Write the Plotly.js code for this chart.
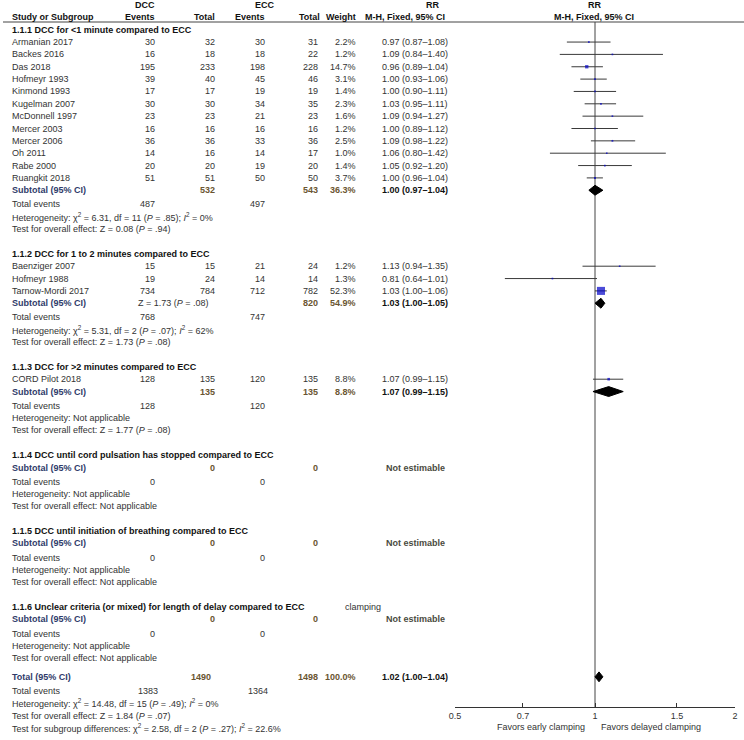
<!DOCTYPE html>
<html>
<head>
<meta charset="utf-8">
<script src="https://cdn.plot.ly/plotly-3.0.1.min.js"></script>
<style>html,body{margin:0;padding:0;background:#fff;}#chart{width:744px;height:740px;}</style>
</head>
<body>
<div id="chart"></div>
<script>
// ---------------- DATA ----------------
const studyNames = ['Armanian 2017','Backes 2016','Das 2018','Hofmeyr 1993','Kinmond 1993','Kugelman 2007','McDonnell 1997','Mercer 2003','Mercer 2006','Oh 2011','Rabe 2000','Ruangkit 2018','Baenziger 2007','Hofmeyr 1988','Tarnow-Mordi 2017','CORD Pilot 2018'];
const studyGroup = [0,0,0,0,0,0,0,0,0,0,0,0,1,1,1,2];
const dccEvents = [30,16,195,39,17,30,23,16,36,14,20,51,15,19,734,128];
const dccTotal  = [32,18,233,40,17,30,23,16,36,16,20,51,15,24,784,135];
const eccEvents = [30,18,198,45,19,34,21,16,33,14,19,50,21,14,712,120];
const eccTotal  = [31,22,228,46,19,35,23,16,36,17,20,50,24,14,782,135];
const studyWeight = [2.2,1.2,14.7,3.1,1.4,2.3,1.6,1.2,2.5,1.0,1.4,3.7,1.2,1.3,52.3,8.8];
const studyRR = [0.97,1.09,0.96,1.00,1.00,1.03,1.09,1.00,1.09,1.06,1.05,1.00,1.13,0.81,1.03,1.07];
const studyLo = [0.87,0.84,0.89,0.93,0.90,0.95,0.94,0.89,0.98,0.80,0.92,0.96,0.94,0.64,1.00,0.99];
const studyHi = [1.08,1.40,1.04,1.06,1.11,1.11,1.27,1.12,1.22,1.42,1.20,1.04,1.35,1.01,1.06,1.15];

const groupTitles = ['1.1.1 DCC for <1 minute compared to ECC','1.1.2 DCC for 1 to 2 minutes compared to ECC','1.1.3 DCC for >2 minutes compared to ECC','1.1.4 DCC until cord pulsation has stopped compared to ECC','1.1.5 DCC until initiation of breathing compared to ECC','1.1.6 Unclear criteria (or mixed) for length of delay compared to ECC'];
const groupDccTotalLabel = ['532','Z = 1.73 (<i>P</i> = .08)','135','0','0','0'];
const groupEccTotal = [543,820,135,0,0,0];
const groupWeight = [36.3,54.9,8.8,null,null,null];
const groupRR = [1.00,1.03,1.07,null,null,null];
const groupLo = [0.97,1.00,0.99,null,null,null];
const groupHi = [1.04,1.05,1.15,null,null,null];
const groupDccEvents = [487,768,128,0,0,0];
const groupEccEvents = [497,747,120,0,0,0];
const groupHet = [
  'Heterogeneity: χ<sup>2</sup> = 6.31, df = 11 (<i>P</i> = .85); <i>I</i><sup>2</sup> = 0%',
  'Heterogeneity: χ<sup>2</sup> = 5.31, df = 2 (<i>P</i> = .07); <i>I</i><sup>2</sup> = 62%',
  'Heterogeneity: Not applicable','Heterogeneity: Not applicable','Heterogeneity: Not applicable','Heterogeneity: Not applicable'];
const groupTest = [
  'Test for overall effect: Z = 0.08 (<i>P</i> = .94)',
  'Test for overall effect: Z = 1.73 (<i>P</i> = .08)',
  'Test for overall effect: Z = 1.77 (<i>P</i> = .08)',
  'Test for overall effect: Not applicable','Test for overall effect: Not applicable','Test for overall effect: Not applicable'];

const totalDccTotal = 1490, totalEccTotal = 1498, totalWeight = 100.0;
const totalRR = 1.02, totalLo = 1.00, totalHi = 1.04;
const totalDccEvents = 1383, totalEccEvents = 1364;
const totalHet = 'Heterogeneity: χ<sup>2</sup> = 14.48, df = 15 (<i>P</i> = .49); <i>I</i><sup>2</sup> = 0%';
const totalTest = 'Test for overall effect: Z = 1.84 (<i>P</i> = .07)';
const subgroupTest = 'Test for subgroup differences: χ<sup>2</sup> = 2.58, df = 2 (<i>P</i> = .27); <i>I</i><sup>2</sup> = 22.6%';

const axisTicks = [0.5, 0.7, 1, 1.5, 2];
const axisTickText = ['0.5','0.7','1','1.5','2'];

// ---------------- LAYOUT HELPERS ----------------
const W = 744, H = 740;
const A = 5, B = 12.35;               // pixel = A + B*row
const px2row = p => (p - A) / B;
const FONT = 'Liberation Sans, Arial, sans-serif';
const TXT = '#333333', BOLD = '#111111', NAVY = '#2f3b6a', BROWN = '#6a5530';
const COL = {label:10, dccEv:157, dccTot:217, eccEv:267, eccTot:320, wt:358, ci:380, ciR:447};
const ann = [];
function T(xpx, row, text, anchor, opt) {
  opt = opt || {};
  ann.push({xref:'paper', yref:'y', x: xpx / W, y: row, text: opt.bold ? '<b>' + text + '</b>' : text,
    xanchor: anchor, yanchor:'middle', showarrow:false,
    font:{family:FONT, size: opt.size || 9, color: opt.color || TXT}});
}
const fmtCI = (r,l,h) => r.toFixed(2) + ' (' + l.toFixed(2) + '–' + h.toFixed(2) + ')';

// Headers
T(157, 0, 'DCC', 'right', {bold:true, color:BOLD});
T(277, 0, 'ECC', 'right', {bold:true, color:BOLD});
T(433, 0, 'RR', 'center', {bold:true, color:BOLD});
T(595, 0, 'RR', 'center', {bold:true, color:BOLD});
T(COL.label, 1, 'Study or Subgroup', 'left', {bold:true, color:BOLD});
T(COL.dccEv, 1, 'Events', 'right', {bold:true, color:BOLD});
T(COL.dccTot, 1, 'Total', 'right', {bold:true, color:BOLD});
T(COL.eccEv, 1, 'Events', 'right', {bold:true, color:BOLD});
T(COL.eccTot + 2, 1, 'Total', 'right', {bold:true, color:BOLD});
T(COL.wt, 1, 'Weight', 'right', {bold:true, color:BOLD});
T(COL.ciR, 1, 'M-H, Fixed, 95% CI', 'right', {bold:true, color:BOLD});
T(594, 1, 'M-H, Fixed, 95% CI', 'center', {bold:true, color:BOLD});

const ciX = [], ciY = [], sqX = [], sqY = [], sqS = [], dX = [], dY = [];
function diamond(r, l, h, row) {
  const hh = 0.4;
  dX.push(l, r, h, r, l, null);
  dY.push(row, row - hh, row, row + hh, row, null);
}

let row = 2;
for (let g = 0; g < groupTitles.length; g++) {
  T(COL.label, row, groupTitles[g], 'left', {bold:true, color:BOLD});
  if (g === 5) T(343, row, 'clamping', 'left');
  row += 1;
  for (let i = 0; i < studyNames.length; i++) {
    if (studyGroup[i] !== g) continue;
    T(COL.label, row, studyNames[i], 'left');
    T(COL.dccEv, row, String(dccEvents[i]), 'right');
    T(COL.dccTot, row, String(dccTotal[i]), 'right');
    T(COL.eccEv, row, String(eccEvents[i]), 'right');
    T(COL.eccTot, row, String(eccTotal[i]), 'right');
    T(COL.wt, row, studyWeight[i].toFixed(1) + '%', 'right');
    T(COL.ci, row, fmtCI(studyRR[i], studyLo[i], studyHi[i]), 'left');
    ciX.push(studyLo[i], studyHi[i], null); ciY.push(row, row, null);
    sqX.push(studyRR[i]); sqY.push(row); sqS.push(1.5 + 0.125 * studyWeight[i]);
    row += 1;
  }
  // subtotal
  T(COL.label, row, 'Subtotal (95% CI)', 'left', {bold:true, color:NAVY});
  if (groupDccTotalLabel[g].indexOf('Z') === 0) T(173, row, groupDccTotalLabel[g], 'center');
  else T(COL.dccTot, row, groupDccTotalLabel[g], 'right', {bold:true, color:BROWN});
  T(COL.eccTot, row, String(groupEccTotal[g]), 'right', {bold:true, color:BROWN});
  if (groupRR[g] !== null) {
    T(COL.wt, row, groupWeight[g].toFixed(1) + '%', 'right', {bold:true, color:BROWN});
    T(COL.ci, row, fmtCI(groupRR[g], groupLo[g], groupHi[g]), 'left', {bold:true, color:BOLD});
    diamond(groupRR[g], groupLo[g], groupHi[g], row);
  } else {
    T(COL.ciR, row, 'Not estimable', 'right', {bold:true, color:'#4a4a40'});
  }
  row += 1.15;
  T(COL.label, row, 'Total events', 'left');
  T(COL.dccEv, row, String(groupDccEvents[g]), 'right');
  T(COL.eccEv, row, String(groupEccEvents[g]), 'right');
  row += 1;
  T(COL.label, row, groupHet[g], 'left');
  row += 1;
  T(COL.label, row, groupTest[g], 'left');
  row += (g < groupTitles.length - 1) ? 2 : 1.5;
}
// overall total
T(COL.label, row, 'Total (95% CI)', 'left', {bold:true, color:NAVY});
T(213, row, String(totalDccTotal), 'right', {bold:true, color:BROWN});
T(COL.eccTot, row, String(totalEccTotal), 'right', {bold:true, color:BROWN});
T(COL.wt, row, totalWeight.toFixed(1) + '%', 'right', {bold:true, color:BROWN});
T(COL.ci, row, fmtCI(totalRR, totalLo, totalHi), 'left', {bold:true, color:BOLD});
diamond(totalRR, totalLo, totalHi, row);
row += 1.15;
T(COL.label, row, 'Total events', 'left');
T(160, row, String(totalDccEvents), 'right');
T(270, row, String(totalEccEvents), 'right');
row += 1; T(COL.label, row, totalHet, 'left');
row += 1; T(COL.label, row, totalTest, 'left');
row += 1; T(COL.label, row, subgroupTest, 'left');

// axis captions
T(587, px2row(727), 'Favors early clamping', 'right');
T(599, px2row(727), 'Favors delayed clamping', 'left');

const traces = [
  {x:[1,1], y:[px2row(22), px2row(707)], mode:'lines', line:{color:'#444', width:1}, hoverinfo:'skip', showlegend:false},
  {x:ciX, y:ciY, mode:'lines', line:{color:'#3a3a3a', width:1}, hoverinfo:'skip', showlegend:false, connectgaps:false},
  {x:sqX, y:sqY, mode:'markers', marker:{symbol:'square', size:sqS, color:'#0000c8', line:{width:0}}, hoverinfo:'skip', showlegend:false},
  {x:dX, y:dY, mode:'lines', fill:'toself', fillcolor:'#000', line:{color:'#000', width:1}, hoverinfo:'skip', showlegend:false}
];

const layout = {
  width: W, height: H,
  margin:{l:0, r:0, t:0, b:0, pad:0},
  paper_bgcolor:'#fff', plot_bgcolor:'rgba(0,0,0,0)',
  showlegend:false,
  font:{family:FONT, size:9, color:TXT},
  xaxis:{type:'log', range:[Math.log10(0.5), Math.log10(2)], domain:[455/W, 735/W],
    anchor:'free', position: 1 - 707/H, showline:true, linecolor:'#333', linewidth:1,
    ticks:'inside', ticklen:4, tickcolor:'#333', tickwidth:1,
    tickvals: axisTicks, ticktext: axisTickText, tickfont:{family:FONT, size:9, color:TXT},
    showgrid:false, zeroline:false, fixedrange:true},
  yaxis:{range:[px2row(H), px2row(0)], domain:[0,1], visible:false, showgrid:false, zeroline:false, fixedrange:true},
  shapes:[{type:'line', xref:'paper', yref:'paper', x0:3/W, x1:1, y0:1-22/H, y1:1-22/H, line:{color:'#444', width:1}}],
  annotations: ann
};
Plotly.newPlot('chart', traces, layout, {displayModeBar:false, staticPlot:true});
</script>
</body>
</html>
